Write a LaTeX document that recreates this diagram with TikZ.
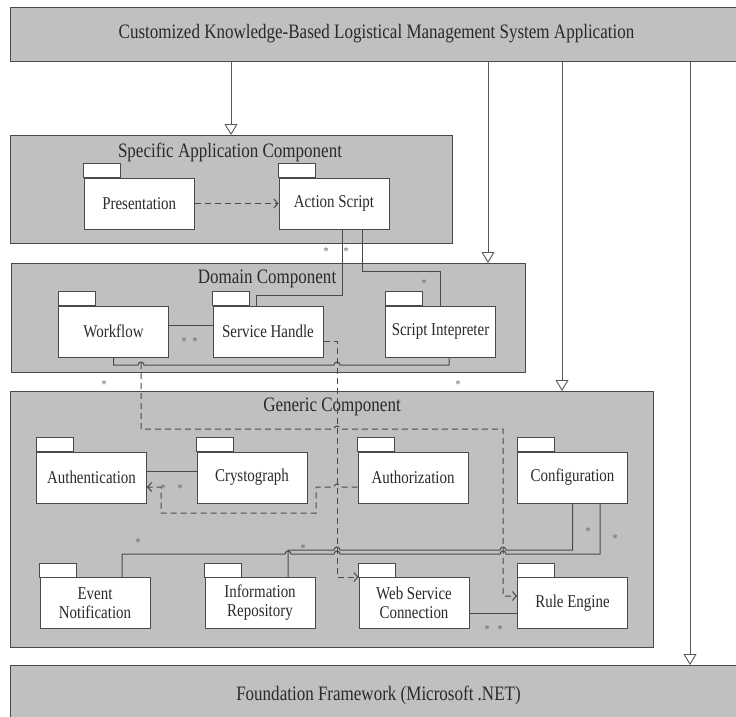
\documentclass[tikz,border=0pt]{standalone}
\usepackage{fontspec}
\setmainfont{Liberation Serif}[FakeStretch=0.83]
\usetikzlibrary{arrows.meta,calc}
\definecolor{boxgray}{HTML}{C0C0C0}
\definecolor{edge}{HTML}{4A4A4A}
\definecolor{ink}{HTML}{2A2A2A}
\tikzset{
  comp/.style={draw=edge, fill=boxgray, line width=1.1pt, anchor=north west, inner sep=0pt},
  lbl/.style={font=\fontsize{20.5}{23}\selectfont, text=ink, inner sep=0pt},
  pkg/.style={draw=edge, fill=white, line width=1pt, minimum width=110pt, minimum height=51pt, inner sep=0pt, font=\fontsize{18}{19}\selectfont, text=ink, align=center},
  tabbox/.style={draw=edge, fill=white, line width=1pt},
  gen/.style={draw=gray!70!black, line width=0.9pt, -{Triangle[open, length=11pt, width=13pt]}},
  assoc/.style={draw=edge, line width=1pt},
  dep/.style={draw=edge, line width=1pt, dash pattern=on 6pt off 4pt, -{Straight Barb[length=4pt,width=9pt]}},
  star/.style={font=\fontsize{12}{12}\selectfont, text=gray!80!black, inner sep=0pt}
}
\newcommand\pkgnode[4]{\node[pkg] (#1) at (#2,#3) {#4}; \draw[tabbox] (#1.north west) rectangle ++(37,-14);}
\begin{document}
\begin{tikzpicture}[x=1pt,y=-1pt]
\useasboundingbox (0,0) rectangle (736,717);
\clip (0,0) rectangle (736,717);
\fill[white] (0,0) rectangle (736,717);

% component boxes
\node[comp, minimum width=740pt, minimum height=54pt] (app) at (10,7) {};
\node[lbl] (appl) at (376.5,34) {Customized Knowledge-Based Logistical Management System Application};
\node[comp, minimum width=442pt, minimum height=108pt] (spec) at (10,135) {};
\node[lbl] (specl) at (230,152) {Specific Application Component};
\node[comp, minimum width=514.5pt, minimum height=109pt] (dom) at (10.5,263) {};
\node[lbl] (doml) at (267,279) {Domain Component};
\node[comp, minimum width=643pt, minimum height=256pt] (gen) at (10,391) {};
\node[lbl] (genl) at (332,407) {Generic Component};
\node[comp, minimum width=740pt, minimum height=60pt] (fnd) at (10,665) {};
\node[lbl] (fndl) at (378.5,695) {Foundation Framework (Microsoft .NET)};

% generalization arrows
\coordinate (t1) at (231,135);
\coordinate (t2) at (488,263);
\coordinate (t3) at (562,391);
\coordinate (t4) at (690,665);
\draw[gen] (app.south -| t1) -- (t1);
\draw[gen] (app.south -| t2) -- (t2);
\draw[gen] (app.south -| t3) -- (t3);
\draw[gen] (app.south -| t4) -- (t4);

% packages
\pkgnode{pres}{139.25}{203.5}{Presentation}
\pkgnode{act}{334}{203.5}{Action Script}
\pkgnode{wf}{113.5}{331.5}{Workflow}
\pkgnode{sh}{268}{331.5}{Service Handle}
\pkgnode{si}{440.5}{331.5}{Script Intepreter}
\pkgnode{auth}{91.5}{477.5}{Authentication}
\pkgnode{cry}{252}{477.5}{Crystograph}
\pkgnode{authz}{413}{477.5}{Authorization}
\pkgnode{conf}{572.5}{477.5}{Configuration}
\pkgnode{evt}{95}{603}{Event\\Notification}
\pkgnode{info}{260}{603}{Information\\Repository}
\pkgnode{wsc}{414}{603}{Web Service\\Connection}
\pkgnode{rule}{572.5}{603}{Rule Engine}

% dependency Presentation -> Action Script
\draw[dep] (pres.east) -- (act.west);

% Action Script associations
\draw[assoc] ($(act.south)+(8,0)$) -- (342,295) -- (256,295) -- ($(sh.north)+(-12,0)$);
\draw[assoc] ($(act.south)+(28,0)$) -- (362,271) -- (440.5,271) -- (si.north);

% Workflow -- Service Handle
\draw[assoc] ($(wf.east)+(0,-6.5)$) -- ($(sh.west)+(0,-6.5)$);
% Workflow -- Script Intepreter (with hops)
\draw[assoc] (wf.south) -- (113.5,365) -- (138,365) arc[start angle=180,end angle=360,radius=3]
  -- (334,365) arc[start angle=180,end angle=360,radius=3] -- (449,365) -- ($(si.south)+(8.5,0)$);

% Authentication -- Crystograph
\draw[assoc] ($(auth.east)+(0,-6.5)$) -- ($(cry.west)+(0,-6.5)$);
% Web Service -- Rule Engine
\draw[assoc] ($(wsc.east)+(0,10)$) -- ($(rule.west)+(0,10)$);

% Configuration -- Information Repository
\draw[assoc] (conf.south) -- (572.5,550) -- (506,550) arc[start angle=0,end angle=-180,radius=3]
  -- (340,550) arc[start angle=0,end angle=-180,radius=3] -- (288,550) -- ($(info.north)+(28,0)$);
% Configuration -- Event Notification
\draw[assoc] ($(conf.south)+(27.5,0)$) -- (600,554) -- (506,554) arc[start angle=0,end angle=-180,radius=3]
  -- (340,554) arc[start angle=0,end angle=-180,radius=3] -- (291,554) arc[start angle=0,end angle=-180,radius=3]
  -- (122,554) -- ($(evt.north)+(27,0)$);

% dependency Workflow side -> Rule Engine
\coordinate (hopA) at (141,363);
\draw[dep] (hopA) -- (141,429) -- (334,429) arc[start angle=180,end angle=360,radius=3]
  -- (503,429) -- (503,596) -- ($(rule.west)+(0,-7)$);
% dependency Service Handle -> Web Service Connection
\draw[dep] ($(sh.east)+(0,9.5)$) -- (337,341) -- (337,577) -- (wsc.north west);
% dependency Authorization -> Authentication
\draw[dep] ($(authz.west)+(0,9.5)$) -- (340,487) arc[start angle=0,end angle=-180,radius=3]
  -- (316,487) -- (316,513) -- (161,513) -- (161,487) -- ($(auth.east)+(0,9.5)$);

% multiplicities
\node[star] (s1) at (326,252) {*};
\node[star] (s2) at (346,252) {*};
\node[star] (s3) at (424,284) {*};
\node[star] (s4) at (184,342) {*};
\node[star] (s5) at (195,342) {*};
\node[star] (s6) at (104,385) {*};
\node[star] (s7) at (458,385) {*};
\node[star] (s8) at (163,489) {*};
\node[star] (s9) at (180,489) {*};
\node[star] (s10) at (138,543) {*};
\node[star] (s11) at (303,549) {*};
\node[star] (s12) at (588,532) {*};
\node[star] (s13) at (615,539) {*};
\node[star] (s14) at (487,630) {*};
\node[star] (s15) at (500,630) {*};
\end{tikzpicture}
\end{document}
